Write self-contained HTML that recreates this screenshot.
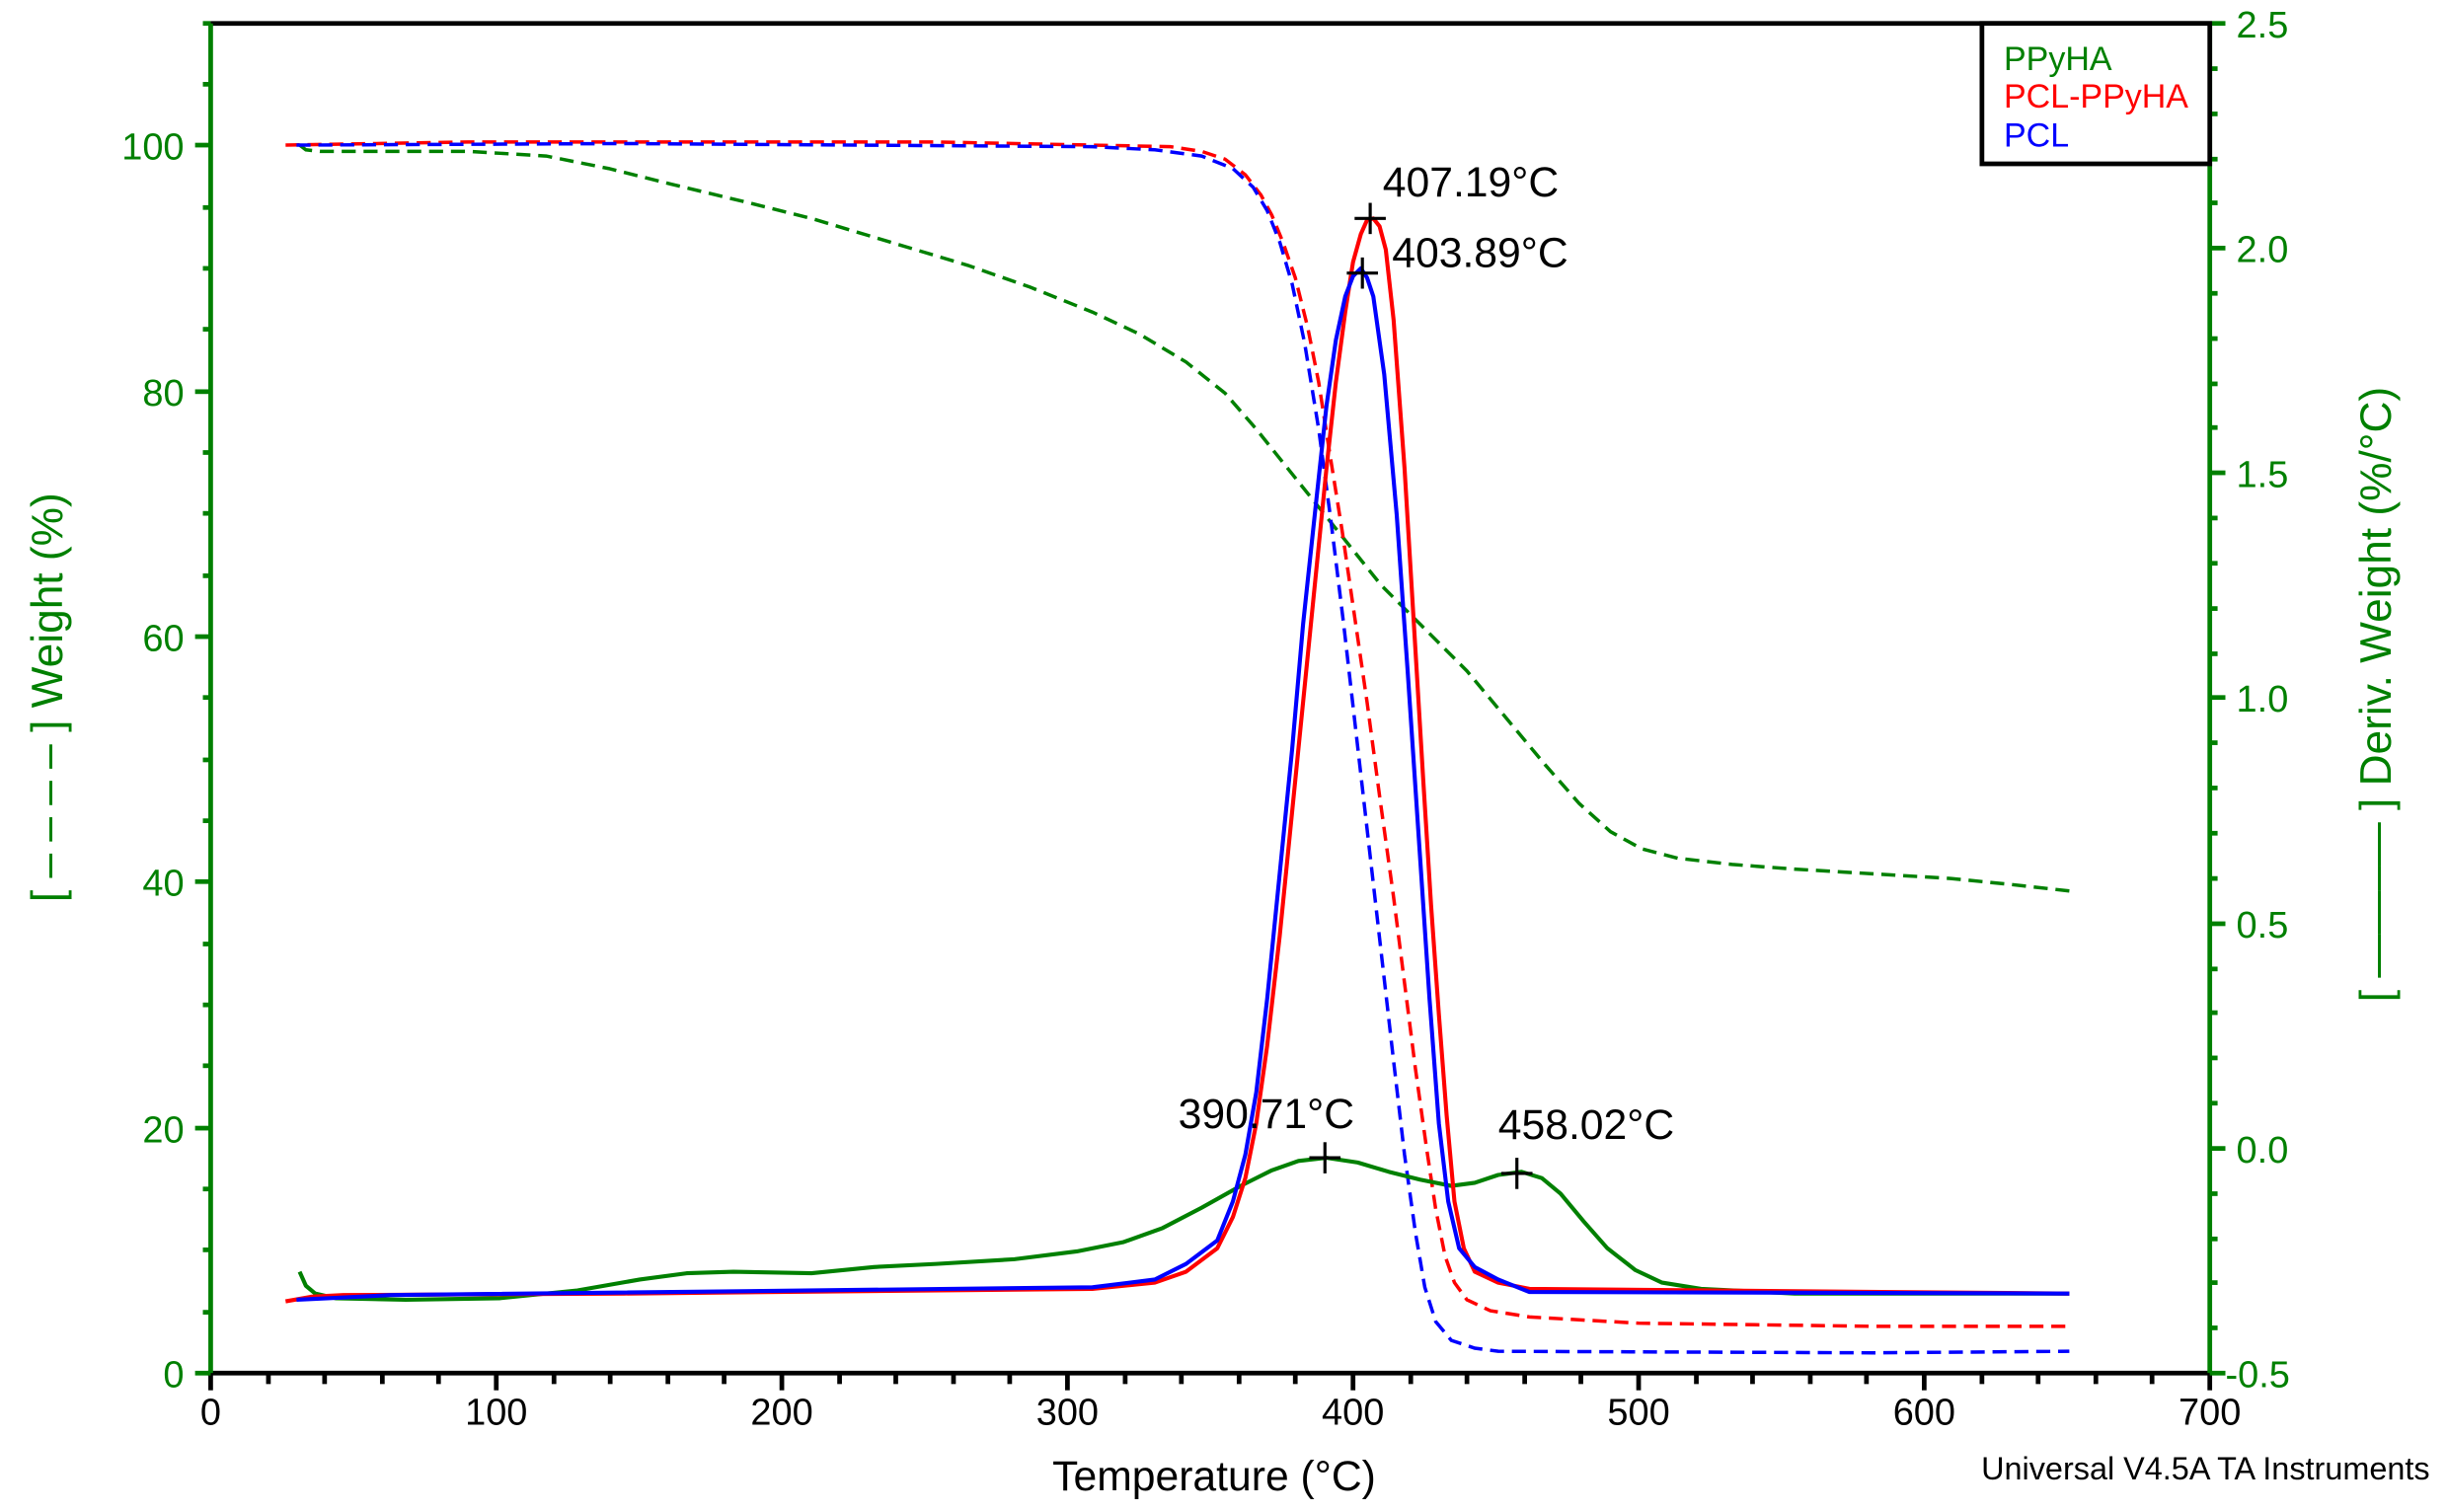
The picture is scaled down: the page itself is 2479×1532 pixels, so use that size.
<!DOCTYPE html>
<html><head><style>html,body{margin:0;padding:0;background:#fff}svg{display:block}</style></head><body>
<svg width="2479" height="1532" viewBox="0 0 1568 969" preserveAspectRatio="none" xmlns="http://www.w3.org/2000/svg" font-family="Liberation Sans, Arial, sans-serif">
<rect width="1568" height="969" fill="#fff"/>
<line x1="135" y1="15" x2="1416" y2="15" stroke="#000" stroke-width="3"/>
<line x1="133" y1="880" x2="1416" y2="880" stroke="#000" stroke-width="3"/>
<line x1="135" y1="15" x2="135" y2="880" stroke="#008000" stroke-width="3"/>
<line x1="1416" y1="15" x2="1416" y2="880" stroke="#008000" stroke-width="3"/>
<g stroke="#000" stroke-width="3">
<line x1="135" y1="880" x2="135" y2="891"/><line x1="318" y1="880" x2="318" y2="891"/><line x1="501" y1="880" x2="501" y2="891"/><line x1="684" y1="880" x2="684" y2="891"/><line x1="867" y1="880" x2="867" y2="891"/><line x1="1050" y1="880" x2="1050" y2="891"/><line x1="1233" y1="880" x2="1233" y2="891"/><line x1="1416" y1="880" x2="1416" y2="891"/>
<line x1="208" y1="880" x2="208" y2="887"/><line x1="281" y1="880" x2="281" y2="887"/><line x1="172" y1="880" x2="172" y2="887"/><line x1="245" y1="880" x2="245" y2="887"/>
<line x1="355" y1="880" x2="355" y2="887"/><line x1="391" y1="880" x2="391" y2="887"/><line x1="428" y1="880" x2="428" y2="887"/><line x1="464" y1="880" x2="464" y2="887"/>
<line x1="538" y1="880" x2="538" y2="887"/><line x1="574" y1="880" x2="574" y2="887"/><line x1="611" y1="880" x2="611" y2="887"/><line x1="647" y1="880" x2="647" y2="887"/>
<line x1="721" y1="880" x2="721" y2="887"/><line x1="757" y1="880" x2="757" y2="887"/><line x1="794" y1="880" x2="794" y2="887"/><line x1="830" y1="880" x2="830" y2="887"/>
<line x1="904" y1="880" x2="904" y2="887"/><line x1="940" y1="880" x2="940" y2="887"/><line x1="977" y1="880" x2="977" y2="887"/><line x1="1013" y1="880" x2="1013" y2="887"/>
<line x1="1087" y1="880" x2="1087" y2="887"/><line x1="1123" y1="880" x2="1123" y2="887"/><line x1="1160" y1="880" x2="1160" y2="887"/><line x1="1196" y1="880" x2="1196" y2="887"/>
<line x1="1270" y1="880" x2="1270" y2="887"/><line x1="1306" y1="880" x2="1306" y2="887"/><line x1="1343" y1="880" x2="1343" y2="887"/><line x1="1379" y1="880" x2="1379" y2="887"/>
</g>
<g font-size="24" fill="#000" text-anchor="middle">
<text x="135" y="913">0</text><text x="318" y="913">100</text><text x="501" y="913">200</text><text x="684" y="913">300</text><text x="867" y="913">400</text><text x="1050" y="913">500</text><text x="1233" y="913">600</text><text x="1416" y="913">700</text>
</g>
<g stroke="#008000" stroke-width="3">
<line x1="125" y1="880" x2="135" y2="880"/><line x1="125" y1="723" x2="135" y2="723"/><line x1="125" y1="565" x2="135" y2="565"/><line x1="125" y1="408" x2="135" y2="408"/><line x1="125" y1="251" x2="135" y2="251"/><line x1="125" y1="93" x2="135" y2="93"/>
<line x1="130" y1="841" x2="135" y2="841"/><line x1="130" y1="801" x2="135" y2="801"/><line x1="130" y1="762" x2="135" y2="762"/>
<line x1="130" y1="683" x2="135" y2="683"/><line x1="130" y1="644" x2="135" y2="644"/><line x1="130" y1="605" x2="135" y2="605"/>
<line x1="130" y1="526" x2="135" y2="526"/><line x1="130" y1="487" x2="135" y2="487"/><line x1="130" y1="447" x2="135" y2="447"/>
<line x1="130" y1="369" x2="135" y2="369"/><line x1="130" y1="329" x2="135" y2="329"/><line x1="130" y1="290" x2="135" y2="290"/>
<line x1="130" y1="211" x2="135" y2="211"/><line x1="130" y1="172" x2="135" y2="172"/><line x1="130" y1="133" x2="135" y2="133"/>
<line x1="130" y1="54" x2="135" y2="54"/><line x1="130" y1="15" x2="135" y2="15"/>
</g>
<g font-size="24" fill="#008000" text-anchor="end">
<text x="118" y="889">0</text><text x="118" y="732">20</text><text x="118" y="574">40</text><text x="118" y="417">60</text><text x="118" y="260">80</text><text x="118" y="102">100</text>
</g>
<g stroke="#008000" stroke-width="3">
<line x1="1416" y1="15" x2="1426" y2="15"/><line x1="1416" y1="159" x2="1426" y2="159"/><line x1="1416" y1="303" x2="1426" y2="303"/><line x1="1416" y1="447" x2="1426" y2="447"/><line x1="1416" y1="592" x2="1426" y2="592"/><line x1="1416" y1="736" x2="1426" y2="736"/><line x1="1416" y1="880" x2="1426" y2="880"/>
<line x1="1416" y1="44" x2="1421" y2="44"/><line x1="1416" y1="73" x2="1421" y2="73"/><line x1="1416" y1="102" x2="1421" y2="102"/><line x1="1416" y1="130" x2="1421" y2="130"/>
<line x1="1416" y1="188" x2="1421" y2="188"/><line x1="1416" y1="217" x2="1421" y2="217"/><line x1="1416" y1="246" x2="1421" y2="246"/><line x1="1416" y1="274" x2="1421" y2="274"/>
<line x1="1416" y1="332" x2="1421" y2="332"/><line x1="1416" y1="361" x2="1421" y2="361"/><line x1="1416" y1="390" x2="1421" y2="390"/><line x1="1416" y1="419" x2="1421" y2="419"/>
<line x1="1416" y1="476" x2="1421" y2="476"/><line x1="1416" y1="505" x2="1421" y2="505"/><line x1="1416" y1="534" x2="1421" y2="534"/><line x1="1416" y1="563" x2="1421" y2="563"/>
<line x1="1416" y1="621" x2="1421" y2="621"/><line x1="1416" y1="649" x2="1421" y2="649"/><line x1="1416" y1="678" x2="1421" y2="678"/><line x1="1416" y1="707" x2="1421" y2="707"/>
<line x1="1416" y1="765" x2="1421" y2="765"/><line x1="1416" y1="794" x2="1421" y2="794"/><line x1="1416" y1="822" x2="1421" y2="822"/><line x1="1416" y1="851" x2="1421" y2="851"/>
</g>
<g font-size="24" fill="#008000">
<text x="1433" y="24">2.5</text><text x="1433" y="168">2.0</text><text x="1433" y="312">1.5</text><text x="1433" y="456">1.0</text><text x="1433" y="601">0.5</text><text x="1433" y="745">0.0</text><text x="1426" y="889">-0.5</text>
</g>
<text x="778" y="955" font-size="27" text-anchor="middle" fill="#000">Temperature (°C)</text>
<text transform="translate(40,447) rotate(-90)" font-size="28" text-anchor="middle" fill="#008000">[ – – – – ] Weight (%)</text>
<text transform="translate(1532,445) rotate(-90)" font-size="28" text-anchor="middle" fill="#008000">[ ——–— ] Deriv. Weight (%/°C)</text>
<text x="1557" y="948" font-size="20.5" text-anchor="end" fill="#000">Universal V4.5A TA Instruments</text>
<g fill="none" stroke-width="2.2" stroke-dasharray="9,5">
<polyline stroke="#008000" points="192,93 196,96 205,97 300,97 350,100 390,108 430,118 480,130 520,140 570,155 620,170 660,184 700,200 730,214 760,232 785,252 805,275 825,300 845,325 865,350 885,375 910,400 940,430 965,460 990,490 1012,515 1032,533 1052,544 1075,550 1110,554 1150,557 1200,560 1250,563 1290,567 1326,571"/>
<polyline stroke="#ff0000" points="183,93 300,91 600,91 750,94 770,97 785,102 798,112 808,125 815,138 822,155 830,178 838,210 845,245 852,290 860,340 868,395 876,450 884,510 893,575 900,630 907,685 914,735 920,775 926,805 932,822 940,833 955,840 980,844 1050,848 1200,850 1326,850"/>
<polyline stroke="#0000ff" points="190,93 400,92 700,94 740,96 770,100 790,108 803,120 812,135 820,155 828,182 836,220 845,275 853,335 861,400 869,470 877,540 885,610 893,680 900,740 907,790 913,825 920,847 930,859 945,864 960,866 1200,867 1326,866"/>
</g>
<g fill="none" stroke-width="2.6" stroke-linejoin="round">
<polyline stroke="#008000" points="192,815 196,824 202,829 215,832 260,833 320,832 370,827 410,820 440,816 470,815 520,816 560,812 600,810 650,807 690,802 720,796 745,787 770,774 795,760 815,750 832,744 850,742 870,745 890,751 910,756 930,760 945,758 960,753 975,751 988,755 1000,765 1015,783 1030,800 1048,814 1065,822 1090,826 1150,829 1326,829"/>
<polyline stroke="#ff0000" points="183,834 200,831 220,830 400,829 700,826 740,822 760,815 780,800 790,780 798,755 805,720 812,670 820,600 828,520 835,450 843,370 850,300 856,245 862,200 867,168 872,150 876,141 880,140 884,145 888,160 893,205 900,300 906,400 912,500 917,580 922,650 927,715 932,770 938,800 945,815 960,822 980,826 1326,829"/>
<polyline stroke="#0000ff" points="190,833 210,832 250,830 700,825 740,820 760,810 780,795 790,770 798,740 805,700 812,640 820,560 828,480 835,400 843,325 850,260 856,218 862,190 867,177 872,172 876,178 880,190 887,240 895,330 902,430 910,550 916,640 922,720 928,770 935,800 945,812 960,820 980,828 1326,829"/>
</g>
<g stroke="#000" stroke-width="2">
<line x1="868" y1="140" x2="888" y2="140"/><line x1="878" y1="130" x2="878" y2="150"/>
<line x1="863" y1="175" x2="883" y2="175"/><line x1="873" y1="165" x2="873" y2="185"/>
<line x1="839" y1="742" x2="859" y2="742"/><line x1="849" y1="732" x2="849" y2="752"/>
<line x1="962" y1="752" x2="982" y2="752"/><line x1="972" y1="742" x2="972" y2="762"/>
</g>
<g font-size="27" fill="#000">
<text x="886" y="126">407.19°C</text><text x="892" y="171">403.89°C</text><text x="755" y="723">390.71°C</text><text x="960" y="730">458.02°C</text>
</g>
<rect x="1270" y="15" width="146" height="90" fill="#fff" stroke="#000" stroke-width="3"/>
<g font-size="21.5">
<text x="1284" y="45" fill="#008000">PPyHA</text><text x="1284" y="69" fill="#ff0000">PCL-PPyHA</text><text x="1284" y="94" fill="#0000ff">PCL</text>
</g>
</svg>
</body></html>
